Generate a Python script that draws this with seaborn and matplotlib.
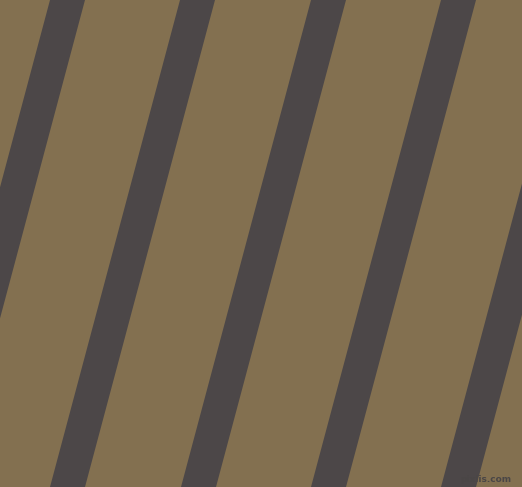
import numpy as np
import matplotlib
matplotlib.use('Agg')
import matplotlib.pyplot as plt
import seaborn as sns

# stripe pattern data (pixels)
stripe_left_top = [-80, 50, 180, 311, 441, 571]   # left edge of each stripe at the top row
stripe_width = 35                                  # horizontal stripe width
stripe_shift = 130                                 # leftward drift from top to bottom
img_w, img_h = 522, 487

bg_color = '#837050'
stripe_color = '#4c4748'

sns.set_theme(style='white')

fig = plt.figure(figsize=(img_w / 100, img_h / 100), dpi=100)
ax = fig.add_axes([0, 0, 1, 1])
ax.set_facecolor(bg_color)

y = np.array([0, img_h])
for x0 in stripe_left_top:
    left = x0 - stripe_shift * y / img_h
    ax.fill_betweenx(y, left, left + stripe_width, color=stripe_color, linewidth=0)

ax.set_xlim(0, img_w)
ax.set_ylim(img_h, 0)
ax.axis('off')
fig.patch.set_facecolor(bg_color)

# watermark
ax.text(511, 479, 'pixlis.com', ha='right', va='center', fontsize=6.5,
        color='#4a4646', fontweight='bold')

fig.savefig('out.png', dpi=100, facecolor=bg_color)
